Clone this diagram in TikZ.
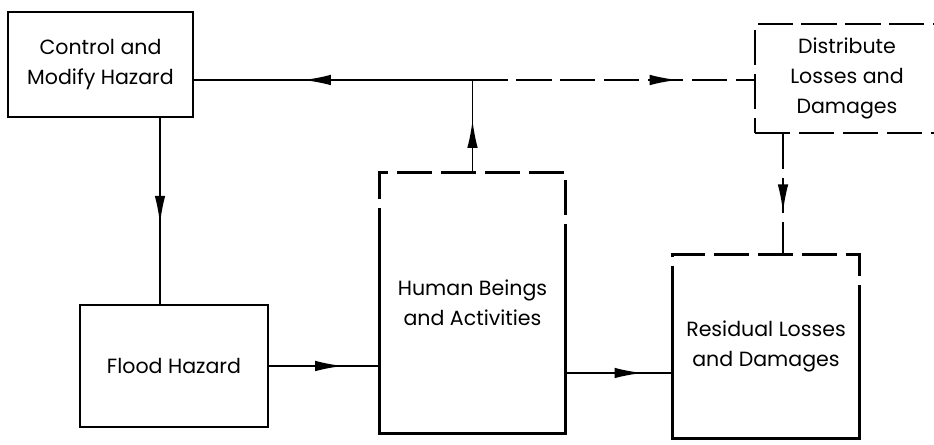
\documentclass[tikz,border=0pt]{standalone}
\usepackage{fontspec}
\setmainfont{Poppins}
\usetikzlibrary{arrows.meta,decorations.markings}

\begin{document}
\begin{tikzpicture}[x=0.02cm,y=-0.02cm,
    box/.style={inner sep=0pt,align=center,font=\fontsize{11.7}{17}\selectfont},
    solidbox/.style={box,draw,line width=1.5pt},
    dashbox/.style={box,draw,line width=1.5pt,dash pattern=on 20pt off 5pt},
    solidline/.style={line width=1.5pt},
    dashline/.style={line width=1.5pt,dash pattern=on 20pt off 5pt},
    link/.style={line width=1.1pt,postaction={decorate},
      decoration={markings,mark=at position #1 with {\arrow{Latex[length=16pt,width=6pt]}}}},
    dlink/.style={link=#1,dash pattern=on 20pt off 5pt}]
  \useasboundingbox (0,0) rectangle (934,445);

  %%%%% BOXES %%%%%
  \node[solidbox,minimum width=3.7cm,minimum height=2.1cm] (ctrl) at (100.5,64.5) {Control and\\Modify Hazard};
  \node[dashbox,minimum width=3.68cm,minimum height=2.18cm] (dist) at (847,78.5) {Distribute\\Losses and\\Damages};
  \node[box,minimum width=3.7cm,minimum height=5.2cm] (hum) at (472.5,303) {Human Beings\\and Activities};
  \node[solidbox,minimum width=3.76cm,minimum height=2.44cm] (flood) at (174,366) {Flood Hazard};
  \node[box,minimum width=3.72cm,minimum height=3.66cm] (res) at (766,346.5) {Residual Losses\\and Damages};

  % dashed on top, solid below
  \draw[dashline] (hum.west |- 0,243) -- (hum.north west) -- (hum.north east) -- (hum.east |- 0,243);
  \draw[solidline] (hum.west |- 0,243) -- (hum.south west) -- (hum.south east) -- (hum.east |- 0,243);
  \draw[dashline] (res.west |- 0,301) -- (res.north west) -- (res.north east) -- (res.east |- 0,301);
  \draw[solidline] (res.west |- 0,301) -- (res.south west) -- (res.south east) -- (res.east |- 0,301);

  %%%%% LINKS %%%%%
  \coordinate (jn) at (hum.north |- 0,80);
  \coordinate (cf) at (160,0);
  \coordinate (hr) at (0,373);
  \coordinate (dr) at (783,0);

  \draw[link=0.61] (jn) -- (jn -| ctrl.east);
  \draw[dlink=0.73] (jn) -- (jn -| dist.west);
  \draw[link=0.57] (hum.north) -- (jn);
  \draw[link=0.57] (ctrl.south -| cf) -- (flood.north -| cf);
  \draw[link=0.67] (flood.east) -- (flood.east -| hum.west);
  \draw[link=0.72] (hum.east |- hr) -- (res.west |- hr);
  \draw[dlink=0.65] (dist.south -| dr) -- (res.north -| dr);
\end{tikzpicture}
\end{document}
